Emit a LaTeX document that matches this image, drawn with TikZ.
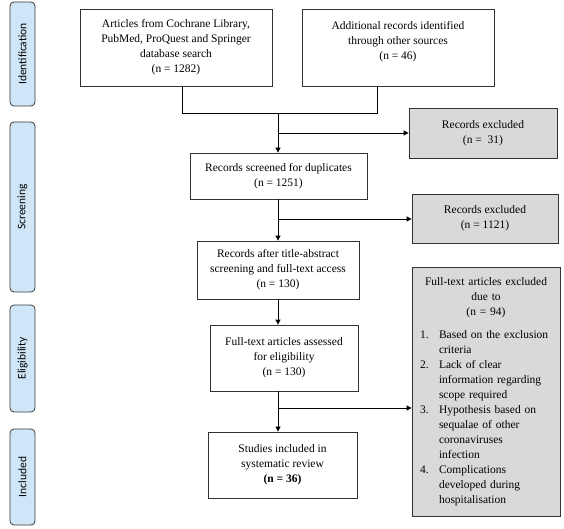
\documentclass[tikz,border=0pt]{standalone}
\usepackage{fontspec}
\setmainfont{Liberation Serif}
\newfontfamily\phasefont{Carlito}
\usetikzlibrary{arrows.meta}
\definecolor{phasefill}{HTML}{CFE6F8}
\definecolor{phasedraw}{HTML}{3A3A3A}
\definecolor{exclfill}{HTML}{D9D9D9}
\definecolor{boxdraw}{HTML}{333333}
\newcommand{\exlabel}[1]{\hspace*{-19pt}\makebox[19pt][l]{#1}}
\begin{document}
\begin{tikzpicture}[x=1pt,y=-1pt,
  box/.style={draw=boxdraw,line width=0.8pt,fill=white,align=center,inner sep=2pt,
    font=\fontsize{11.5}{15}\selectfont},
  exclbox/.style={box,fill=exclfill},
  phase/.style={draw=phasedraw,line width=0.8pt,fill=phasefill,rounded corners=4pt,
    minimum height=25pt,inner sep=0pt,rotate=90,font=\phasefont\fontsize{11.5}{13}\selectfont},
  conn/.style={line width=0.8pt,draw=black},
  arr/.style={conn,-{Triangle[length=5pt,width=5pt]}}]
\useasboundingbox (0,0) rectangle (564,529);

% phase labels
\node[phase,minimum width=104pt] (pid) at (22.5,54) {Identification};
\node[phase,minimum width=170pt] (psc) at (22.5,207) {Screening};
\node[phase,minimum width=107pt] (pel) at (22.5,358.5) {Eligibility};
\node[phase,minimum width=96pt] (pin) at (22.5,477) {Included};

% boxes
\node[box,minimum width=192pt,minimum height=77pt] (b1) at (176,47.5)
  {Articles from Cochrane Library,\\PubMed, ProQuest and Springer\\database search\\(n = 1282)};
\node[box,minimum width=192pt,minimum height=77pt] (b2) at (398,47.5)
  {Additional records identified\\through other sources\\(n = 46)\\\mbox{}};
\node[exclbox,minimum width=148pt,minimum height=50pt] (e1) at (483,133)
  {Records excluded\\(n =\ \ 31)};
\node[box,minimum width=177pt,minimum height=46pt] (b3) at (278.5,176)
  {Records screened for duplicates\\(n = 1251)};
\node[exclbox,minimum width=146pt,minimum height=49pt] (e2) at (485,218.5)
  {Records excluded\\(n = 1121)};
\node[box,minimum width=162pt,minimum height=58pt] (b4) at (278,270)
  {Records after title-abstract\\screening and full-text access\\(n = 130)};
\node[box,minimum width=148pt,minimum height=66pt] (b5) at (284,358)
  {Full-text articles assessed\\for eligibility\\(n = 130)};
\node[box,minimum width=149pt,minimum height=66pt] (b6) at (282.5,465)
  {Studies included in\\systematic review\\\textbf{(n = 36)}};
\node[exclbox,minimum width=148pt,minimum height=249pt,text width=132pt,align=left,inner xsep=8pt,inner ysep=3pt] (e3) at (486,391.5)
  {{\centering Full-text articles excluded\\due to\\(n = 94)\par}
   \vspace{8pt}
   \leftskip=19pt\parindent=0pt
   \exlabel{1.}Based on the exclusion\\criteria\\
   \exlabel{2.}Lack of clear\\information regarding\\scope required\\
   \exlabel{3.}Hypothesis based on\\sequalae of other\\coronaviruses\\infection\\
   \exlabel{4.}Complications\\developed during\\hospitalisation\par};

% junction coordinates
\coordinate (j1) at (278,113);
\coordinate (j2) at (278,133);
\coordinate (j3) at (278,219);
\coordinate (j4) at (278,408);

% connectors
\draw[conn] ([xshift=6pt]b1.south) |- (j1);
\draw[conn] ([xshift=-21pt]b2.south) |- (j1);
\draw[arr] (j1) -- (j1 |- b3.north);
\draw[arr] (j2) -- (e1.west);
\draw[arr] (b3.south -| j1) -- (b4.north -| j1);
\draw[arr] (j3) -- (j3 -| e2.west);
\draw[arr] (b4.south -| j1) -- (b5.north -| j1);
\draw[arr] (b5.south -| j1) -- (b6.north -| j1);
\draw[arr] (j4) -- (j4 -| e3.west);
\end{tikzpicture}
\end{document}
